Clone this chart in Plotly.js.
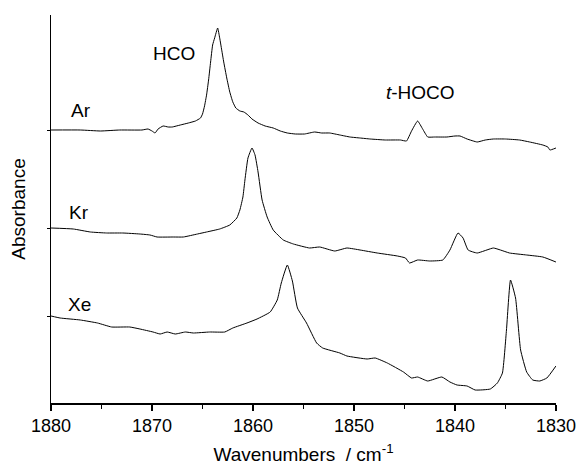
<!DOCTYPE html>
<html>
<head>
<meta charset="utf-8">
<script src="https://cdn.plot.ly/plotly-3.0.1.min.js"></script>
<style>html,body{margin:0;padding:0;background:#fff;}#chart{width:576px;height:466px;}</style>
</head>
<body>
<div id="chart"></div>
<script>
// Wavenumbers (cm^-1) and absorbance (offset traces, arbitrary units)
const arWn = [1880.0,1877.1,1875.1,1873.2,1871.0,1870.4,1870.0,1869.7,1869.4,1868.9,1868.4,1868.0,1867.2,1866.4,1865.7,1865.2,1865.0,1864.8,1864.6,1864.4,1864.2,1864.0,1863.8,1863.5,1863.3,1863.1,1862.9,1862.6,1862.3,1862.0,1861.7,1861.3,1860.9,1860.5,1860.1,1859.5,1858.8,1858.0,1857.3,1856.6,1855.8,1854.9,1853.9,1853.2,1852.4,1851.4,1850.4,1849.4,1848.4,1846.9,1845.4,1844.8,1844.3,1843.7,1843.2,1842.7,1842.0,1840.8,1840.0,1839.5,1838.8,1837.8,1837.0,1836.2,1835.0,1833.6,1832.6,1831.3,1830.8,1830.6,1830.0];
const arAbs = [0.273,0.273,0.272,0.273,0.273,0.274,0.272,0.270,0.274,0.277,0.276,0.276,0.278,0.280,0.282,0.285,0.289,0.297,0.308,0.323,0.341,0.358,0.365,0.375,0.365,0.353,0.341,0.325,0.311,0.301,0.295,0.292,0.291,0.288,0.284,0.280,0.277,0.275,0.272,0.270,0.269,0.269,0.271,0.270,0.270,0.268,0.266,0.265,0.264,0.263,0.263,0.262,0.272,0.282,0.274,0.266,0.266,0.266,0.267,0.267,0.264,0.261,0.263,0.264,0.264,0.263,0.261,0.258,0.256,0.253,0.255];

const krWn = [1880.0,1877.8,1876.1,1874.5,1872.9,1871.2,1870.2,1869.5,1867.9,1866.9,1865.5,1864.6,1863.3,1862.3,1861.6,1861.3,1861.0,1860.8,1860.5,1860.1,1859.8,1859.5,1859.1,1858.6,1858.0,1857.0,1856.0,1854.4,1853.4,1851.9,1850.7,1849.4,1847.7,1845.7,1844.9,1844.5,1843.7,1842.5,1841.2,1840.5,1839.7,1839.2,1838.7,1837.8,1836.2,1835.5,1834.6,1832.9,1831.3,1830.0];
const krAbs = [0.175,0.174,0.171,0.170,0.170,0.169,0.168,0.166,0.166,0.166,0.169,0.171,0.174,0.178,0.185,0.193,0.206,0.223,0.245,0.255,0.248,0.231,0.203,0.186,0.173,0.163,0.159,0.155,0.156,0.152,0.155,0.153,0.150,0.147,0.145,0.140,0.143,0.142,0.143,0.153,0.170,0.165,0.153,0.150,0.155,0.153,0.150,0.148,0.146,0.141];

const xeWn = [1880.0,1879.1,1877.1,1875.4,1874.0,1872.2,1871.2,1869.9,1869.2,1868.5,1867.7,1866.7,1865.9,1864.3,1862.8,1862.0,1860.6,1859.6,1858.3,1857.6,1857.2,1856.6,1856.1,1855.6,1854.7,1853.7,1853.1,1851.4,1850.7,1848.7,1847.9,1846.7,1845.1,1844.3,1843.7,1842.7,1841.3,1840.5,1839.8,1838.8,1838.0,1836.5,1835.8,1835.3,1834.9,1834.5,1834.0,1833.5,1832.9,1832.3,1831.6,1830.9,1830.0];
const xeAbs = [0.087,0.085,0.083,0.080,0.076,0.076,0.074,0.071,0.069,0.071,0.069,0.071,0.070,0.071,0.071,0.075,0.080,0.084,0.091,0.103,0.120,0.138,0.122,0.095,0.080,0.060,0.055,0.050,0.047,0.044,0.045,0.040,0.031,0.025,0.026,0.022,0.026,0.021,0.018,0.017,0.013,0.014,0.020,0.030,0.073,0.123,0.105,0.053,0.031,0.023,0.022,0.025,0.037];

const matrixLabels = ["Ar", "Kr", "Xe"];
const bandLabels = ["HCO", "<i>t</i>-HOCO"];
const xTickVals = [1880, 1870, 1860, 1850, 1840, 1830];
const xTickText = ["1880", "1870", "1860", "1850", "1840", "1830"];

const FONT = "Liberation Sans, Arial, Helvetica, sans-serif";
const line = {color: "#000", width: 1, shape: "spline", smoothing: 0.4};

const traces = [
  {x: arWn, y: arAbs, name: matrixLabels[0], mode: "lines", line: line},
  {x: krWn, y: krAbs, name: matrixLabels[1], mode: "lines", line: line},
  {x: xeWn, y: xeAbs, name: matrixLabels[2], mode: "lines", line: line}
];

const ann = (text, x, y) => ({text: text, x: x, y: y, xref: "x", yref: "y", showarrow: false,
  font: {family: FONT, size: 19, color: "#000"}, xanchor: "center", yanchor: "middle"});

const layout = {
  width: 576, height: 466,
  margin: {l: 51, r: 20, t: 15, b: 63},
  paper_bgcolor: "#fff", plot_bgcolor: "#fff",
  showlegend: false,
  font: {family: FONT, color: "#000"},
  xaxis: {
    range: [1880.005, 1829.995], showgrid: false, zeroline: false,
    showline: true, linecolor: "#000", linewidth: 1.5,
    ticks: "outside", ticklen: 6, tickwidth: 1.5, tickcolor: "#000",
    tickmode: "array", tickvals: xTickVals, ticktext: xTickText,
    minor: {dtick: 5, tick0: 1830, ticks: "outside", ticklen: 4, tickwidth: 1.2, tickcolor: "#000", showgrid: false},
    tickfont: {family: FONT, size: 18, color: "#000"},
    title: {text: "Wavenumbers  / cm<sup>-1</sup>", font: {family: FONT, size: 19, color: "#000"}, standoff: 12}
  },
  yaxis: {
    range: [0, 0.388], showgrid: false, zeroline: false,
    showline: true, linecolor: "#000", linewidth: 1.5,
    ticks: "outside", ticklen: 3, tickwidth: 1, tickcolor: "#000",
    tickmode: "array", tickvals: [arAbs[0], krAbs[0], xeAbs[0]], showticklabels: false,
    title: {text: "Absorbance", font: {family: FONT, size: 19, color: "#000"}, standoff: 16}
  },
  annotations: [
    ann(bandLabels[0], 1867.8, 0.350),
    ann(bandLabels[1], 1843.4, 0.311),
    ann(matrixLabels[0], 1877.0, 0.293),
    ann(matrixLabels[1], 1877.2, 0.191),
    ann(matrixLabels[2], 1877.2, 0.099)
  ]
};

Plotly.newPlot("chart", traces, layout, {staticPlot: true, displayModeBar: false});
</script>
</body>
</html>
